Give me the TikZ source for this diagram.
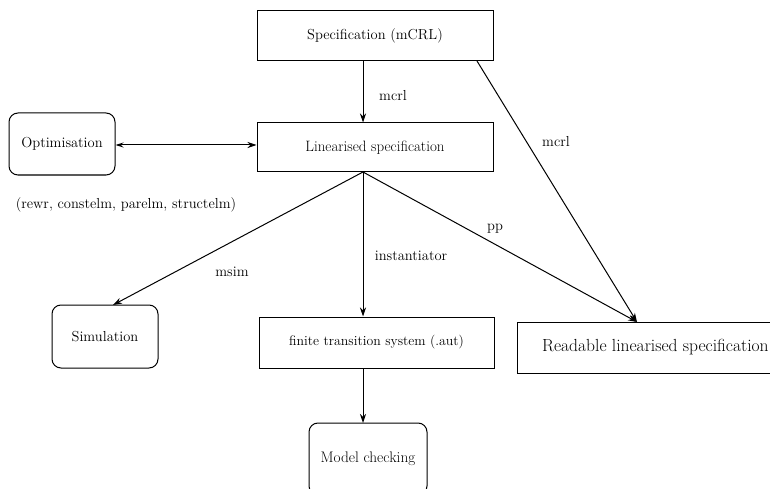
\documentclass[tikz,border=0pt]{standalone}
\usepackage{fontspec}
\usetikzlibrary{arrows.meta,calc}
\begin{document}
\begin{tikzpicture}[x=1pt,y=-1pt,
  every node/.style={font=\fontsize{14.5}{17}\selectfont},
  sqbox/.style={draw,line width=1pt,rectangle,inner sep=0pt},
  rbox/.style={draw,line width=1pt,rectangle,rounded corners=9pt,inner sep=0pt},
  conn/.style={line width=1pt,-{Stealth[length=9pt,width=6pt]}},
  lbl/.style={inner sep=0pt}]
\useasboundingbox (0,0) rectangle (770,489);
\begin{scope}
\clip (0,0) rectangle (770,489);
\node[sqbox,minimum width=236pt,minimum height=50pt] (spec) at (375,36) {Specification (mCRL)};
\node[sqbox,minimum width=236pt,minimum height=49pt,font=\fontsize{15}{17}\selectfont] (lin) at (375,147.5) {Linearised specification};
\node[rbox,minimum width=106pt,minimum height=62pt] (opt) at (62,144) {Optimisation};
\node[rbox,minimum width=106pt,minimum height=63pt] (sim) at (105,336.5) {Simulation};
\node[sqbox,minimum width=235pt,minimum height=51pt,font=\fontsize{13.8}{17}\selectfont] (fts) at (376.5,342.5) {finite transition system (.aut)};
\node[rbox,minimum width=118pt,minimum height=72pt,font=\fontsize{15.3}{17}\selectfont] (mc) at (368,459) {Model checking};
\node[sqbox,minimum width=273pt,minimum height=51pt] (read) at (653.5,347.5) {};
\node[lbl,anchor=west,font=\fontsize{17.5}{20}\selectfont] (readtxt) at (542,347) {Readable linearised specification};
\end{scope}
\coordinate (fan) at (363,172);
\coordinate (simtip) at (113,305);
\coordinate (readtip) at (637,322);
\coordinate (specright) at (477,61);
\coordinate (mctop) at (363,423);
\draw[conn] (spec.south -| fan) -- (fan |- lin.north);
\draw[line width=1pt,{Stealth[length=8pt,width=5pt]}-{Stealth[length=9pt,width=6pt]}] (opt.east |- 0,145) -- (lin.west |- 0,145);
\draw[conn] (fan) -- (simtip);
\draw[conn] (fan) -- (fan |- fts.north);
\draw[conn] (fan |- fts.south) -- (mctop);
\draw[conn] (fan) -- (readtip);
\draw[conn] (specright) -- (readtip);
\node[lbl] (l1) at (393,96) {mcrl};
\node[lbl] (l2) at (556,142) {mcrl};
\node[lbl] (l3) at (232,272) {msim};
\node[lbl] (l4) at (411,256) {instantiator};
\node[lbl] (l5) at (495,229) {pp};
\node[lbl] (l6) at (126,205) {(rewr, constelm, parelm, structelm)};
\end{tikzpicture}
\end{document}
